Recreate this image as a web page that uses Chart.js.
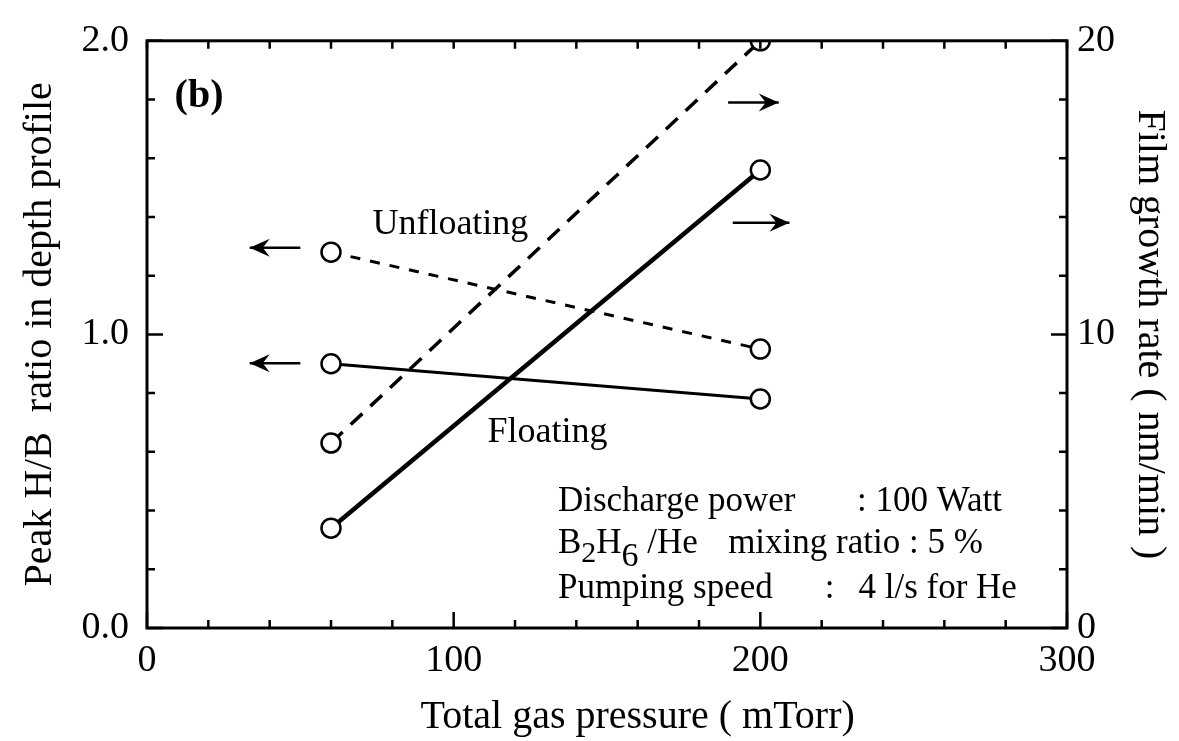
<!DOCTYPE html>
<html>
<head>
<meta charset="utf-8">
<script src="https://cdn.jsdelivr.net/npm/chart.js@4/dist/chart.umd.min.js"></script>
<style>
  html, body { margin: 0; padding: 0; background: #fff; }
  #wrap { width: 1179px; height: 741px; }
</style>
</head>
<body>
<div id="wrap"><canvas id="c" width="1179" height="741"></canvas></div>
<script>
// ---- data ----
const pressure = [60, 200];                 // mTorr
const hbUnfloating = [1.28, 0.95];          // Peak H/B ratio (left axis)
const hbFloating = [0.90, 0.78];
const growthUnfloating = [6.3, 20.0];       // Film growth rate nm/min (right axis)
const growthFloating = [3.4, 15.6];
const xTickLabels = ['0', '100', '200', '300'];
const yTickLabels = ['0.0', '1.0', '2.0'];
const y2TickLabels = ['0', '10', '20'];
const xTitle = 'Total gas pressure ( mTorr)';
const yTitle = 'Peak H/B  ratio in depth profile';
const y2Title = 'Film growth rate ( nm/min )';

const FONT = '"Liberation Serif", "DejaVu Serif", serif';

function pts(xs, ys) { return xs.map((x, i) => ({ x: x, y: ys[i] })); }

// annotations (data coordinates)
const textNotes = [
  { text: '(b)', x: 9, y: 1.81, axis: 'y', bold: true, size: 40 },
  { text: 'Unfloating', x: 73.5, y: 1.374, axis: 'y', size: 36 },
  { text: 'Floating', x: 111, y: 0.667, axis: 'y', size: 36 }
];
const arrows = [
  { from: 50, to: 33.5, y: 1.295, axis: 'y' },
  { from: 50, to: 33.5, y: 0.902, axis: 'y' },
  { from: 189.5, to: 206, y: 17.9, axis: 'y2' },
  { from: 191, to: 209.5, y: 13.8, axis: 'y2' }
];

const decorPlugin = {
  id: 'decor',
  afterDraw(chart) {
    const ctx = chart.ctx;
    const a = chart.chartArea;
    const sx = chart.scales.x, sy = chart.scales.y, sy2 = chart.scales.y2;
    ctx.save();
    ctx.strokeStyle = '#000';
    ctx.fillStyle = '#000';
    // frame
    ctx.lineWidth = 3;
    ctx.strokeRect(a.left, a.top, a.right - a.left, a.bottom - a.top);
    // inward ticks
    ctx.lineWidth = 2.5;
    ctx.beginPath();
    for (let v = 0; v <= 300; v += 20) {
      const px = sx.getPixelForValue(v);
      const major = v % 100 === 0;
      const lb = major ? 16 : 8;
      ctx.moveTo(px, a.bottom); ctx.lineTo(px, a.bottom - lb);
      ctx.moveTo(px, a.top); ctx.lineTo(px, a.top + 8);
    }
    for (let i = 0; i <= 10; i++) {
      const v = i * 0.2;
      const py = sy.getPixelForValue(v);
      const major = i % 5 === 0;
      ctx.moveTo(a.left, py); ctx.lineTo(a.left + (major ? 16 : 8), py);
    }
    for (let i = 0; i <= 10; i++) {
      const v = i * 2;
      const py = sy2.getPixelForValue(v);
      const major = i % 5 === 0;
      ctx.moveTo(a.right, py); ctx.lineTo(a.right - (major ? 16 : 8), py);
    }
    ctx.stroke();

    // x axis title (centered slightly right of plot centre as in the original)
    ctx.textAlign = 'center';
    ctx.textBaseline = 'middle';
    ctx.font = '40px ' + FONT;
    ctx.fillText(xTitle, sx.getPixelForValue(160), 717);

    // text notes
    ctx.textBaseline = 'middle';
    ctx.textAlign = 'left';
    textNotes.forEach(n => {
      ctx.font = (n.bold ? 'bold ' : '') + n.size + 'px ' + FONT;
      ctx.fillText(n.text, sx.getPixelForValue(n.x), chart.scales[n.axis].getPixelForValue(n.y));
    });

    // arrows
    ctx.lineWidth = 2.5;
    arrows.forEach(ar => {
      const x0 = sx.getPixelForValue(ar.from), x1 = sx.getPixelForValue(ar.to);
      const y = chart.scales[ar.axis].getPixelForValue(ar.y);
      const dir = Math.sign(x1 - x0);
      ctx.beginPath();
      ctx.moveTo(x0, y); ctx.lineTo(x1, y);
      ctx.stroke();
      ctx.beginPath();
      ctx.moveTo(x1, y);
      ctx.lineTo(x1 - dir * 20, y - 9);
      ctx.lineTo(x1 - dir * 13, y);
      ctx.lineTo(x1 - dir * 20, y + 9);
      ctx.closePath();
      ctx.fill();
    });

    // conditions text
    const F = 35;
    ctx.font = F + 'px ' + FONT;
    const L = sx.getPixelForValue(134);
    const l1 = sy.getPixelForValue(0.431), l2 = sy.getPixelForValue(0.286), l3 = sy.getPixelForValue(0.135);
    ctx.fillText('Discharge power', L, l1);
    ctx.fillText(': 100 Watt', sx.getPixelForValue(231.5), l1);
    // B2H6 line
    let x = L;
    ctx.fillText('B', x, l2); x += ctx.measureText('B').width;
    ctx.font = '30px ' + FONT;
    ctx.fillText('2', x, l2 + 10); x += ctx.measureText('2').width;
    ctx.font = F + 'px ' + FONT;
    ctx.fillText('H', x, l2); x += ctx.measureText('H').width;
    ctx.font = '34px ' + FONT;
    ctx.fillText('6', x, l2 + 13); x += ctx.measureText('6').width;
    ctx.font = F + 'px ' + FONT;
    ctx.fillText(' /He', x, l2);
    ctx.fillText('mixing ratio : 5 %', sx.getPixelForValue(189.5), l2);
    ctx.fillText('Pumping speed', L, l3);
    ctx.fillText(':', sx.getPixelForValue(221), l3);
    ctx.fillText('4 l/s for He', sx.getPixelForValue(232), l3);
    ctx.restore();
  }
};

const common = { pointStyle: 'circle', pointRadius: 9.5, pointBorderWidth: 2.5,
  pointBackgroundColor: '#fff', pointBorderColor: '#000', borderColor: '#000', backgroundColor: '#fff',
  tension: 0, fill: false };

new Chart(document.getElementById('c'), {
  type: 'line',
  data: {
    datasets: [
      Object.assign({}, common, { label: 'H/B Unfloating', data: pts(pressure, hbUnfloating), yAxisID: 'y', borderWidth: 3, borderDash: [10, 10] }),
      Object.assign({}, common, { label: 'H/B Floating', data: pts(pressure, hbFloating), yAxisID: 'y', borderWidth: 3 }),
      Object.assign({}, common, { label: 'Growth Unfloating', data: pts(pressure, growthUnfloating), yAxisID: 'y2', borderWidth: 3.5, borderDash: [16, 11] }),
      Object.assign({}, common, { label: 'Growth Floating', data: pts(pressure, growthFloating), yAxisID: 'y2', borderWidth: 4.5 })
    ]
  },
  options: {
    responsive: false,
    animation: false,
    events: [],
    layout: { padding: { top: 34, left: 0, right: 0, bottom: 0 } },
    plugins: { legend: { display: false }, tooltip: { enabled: false }, title: { display: false } },
    scales: {
      x: {
        type: 'linear', position: 'bottom', min: 0, max: 300,
        afterFit(s) { s.height = 113; },
        afterBuildTicks(s) { s.ticks = xTickLabels.map(t => ({ value: Number(t) })); },
        grid: { display: false, drawTicks: false },
        border: { display: false },
        ticks: { color: '#000', font: { family: FONT, size: 38 }, padding: 10, maxRotation: 0,
          callback: (v) => xTickLabels.find(t => Number(t) === v) },
        title: { display: false }
      },
      y: {
        type: 'linear', position: 'left', min: 0, max: 2,
        afterFit(s) { s.width = 147; },
        afterBuildTicks(s) { s.ticks = yTickLabels.map(t => ({ value: Number(t) })); },
        grid: { display: false, drawTicks: false },
        border: { display: false },
        ticks: { color: '#000', font: { family: FONT, size: 38 }, padding: 18,
          callback: (v) => yTickLabels.find(t => Number(t) === v) },
        title: { display: true, text: yTitle, color: '#000',
          font: { family: FONT, size: 40 }, padding: { top: 16, bottom: 0 } }
      },
      y2: {
        type: 'linear', position: 'right', min: 0, max: 20,
        afterFit(s) { s.width = 112; },
        afterBuildTicks(s) { s.ticks = y2TickLabels.map(t => ({ value: Number(t) })); },
        grid: { display: false, drawTicks: false },
        border: { display: false },
        ticks: { color: '#000', font: { family: FONT, size: 38 }, padding: 10,
          callback: (v) => y2TickLabels.find(t => Number(t) === v) },
        title: { display: true, text: y2Title, color: '#000',
          font: { family: FONT, size: 40 }, padding: { top: 6, bottom: 0 } }
      }
    }
  },
  plugins: [decorPlugin]
});
</script>
</body>
</html>
